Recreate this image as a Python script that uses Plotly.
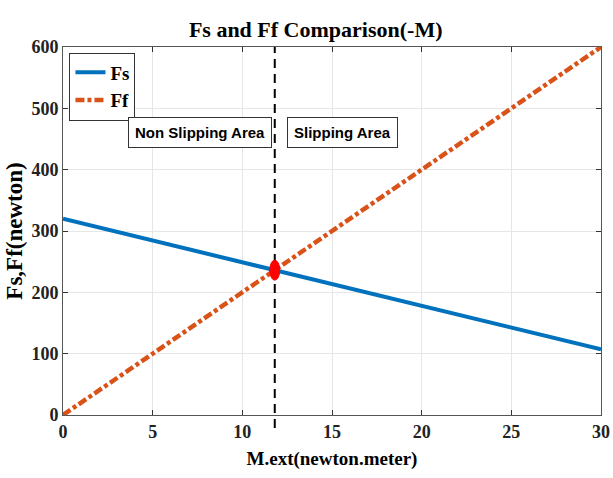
import numpy as np
import plotly.graph_objects as go

# Moment values (newton.meter) and the two forces (newton)
m_ext = [0, 30]
fs_vals = [320, 107]
ff_vals = [0, 600]
x_ticks = [0, 5, 10, 15, 20, 25, 30]
y_ticks = [0, 100, 200, 300, 400, 500, 600]

# Crossing point of the two straight lines
s_fs = (fs_vals[1] - fs_vals[0]) / (m_ext[1] - m_ext[0])
s_ff = (ff_vals[1] - ff_vals[0]) / (m_ext[1] - m_ext[0])
x_cross = (fs_vals[0] - ff_vals[0]) / (s_ff - s_fs)
y_cross = ff_vals[0] + s_ff * x_cross

BLUE = "#0072BD"
ORANGE = "#D95319"
SERIF = "Liberation Serif"

fig = go.Figure()
fig.add_trace(go.Scatter(x=m_ext, y=fs_vals, mode="lines", name="<b>Fs</b>",
                         line=dict(color=BLUE, width=4)))
fig.add_trace(go.Scatter(x=m_ext, y=ff_vals, mode="lines", name="<b>Ff</b>",
                         line=dict(color=ORANGE, width=4.5, dash="9px,3px,4px,3px")))

# Boundary between the two regions
fig.add_shape(type="line", xref="x", yref="paper", x0=x_cross, x1=x_cross,
              y0=-0.035, y1=1.0, line=dict(color="black", width=2, dash="9px,6px"),
              layer="above")
# Red marker on the crossing
fig.add_shape(type="circle", xref="x", yref="y", xsizemode="pixel", ysizemode="pixel",
              xanchor=x_cross, yanchor=y_cross, x0=-5, x1=5, y0=-10, y1=10,
              fillcolor="red", line=dict(color="red", width=1), layer="above")

box = dict(xref="paper", yref="paper", showarrow=False, bordercolor="#333333",
           borderwidth=1, bgcolor="white", borderpad=6,
           font=dict(family="Liberation Sans", size=15, color="black"),
           yanchor="middle")
fig.add_annotation(text="<b>Non Slipping Area</b>", x=0.121, xanchor="left", y=0.767, **box)
fig.add_annotation(text="<b>Slipping Area</b>", x=0.416, xanchor="left", y=0.767, **box)

axis_common = dict(showgrid=True, gridcolor="#E6E6E6", gridwidth=1, zeroline=False,
                   showline=True, linecolor="#555555", linewidth=1, mirror="ticks",
                   ticks="inside", ticklen=5, tickcolor="#333333", automargin=False,
                   tickfont=dict(family=SERIF, size=18, color="#222222"))

fig.update_layout(
    width=613, height=478,
    margin=dict(l=63, r=12, t=47, b=63),
    paper_bgcolor="white", plot_bgcolor="white",
    title=dict(text="<b>Fs and Ff Comparison(-M)</b>", x=0.515, xanchor="center",
               y=0.938, yanchor="middle", font=dict(family=SERIF, size=22, color="black")),
    legend=dict(x=0.012, y=0.985, xanchor="left", yanchor="top",
                bordercolor="#333333", borderwidth=1, bgcolor="white",
                font=dict(family=SERIF, size=19, color="black"),
                itemwidth=30, tracegroupgap=0),
    showlegend=True,
)
fig.update_xaxes(range=[0, 30], tickvals=x_ticks,
                 ticktext=[f"<b>{v}</b>" for v in x_ticks],
                 title=dict(text="<b>M.ext(newton.meter)</b>", standoff=11,
                            font=dict(family=SERIF, size=19, color="black")),
                 **axis_common)
fig.update_yaxes(range=[0, 600], tickvals=y_ticks,
                 ticktext=[f"<b>{v}</b>" for v in y_ticks],
                 title=dict(text="<b>Fs,Ff(newton)</b>", standoff=2,
                            font=dict(family=SERIF, size=23, color="black")),
                 **axis_common)

fig.write_html("out.html")
